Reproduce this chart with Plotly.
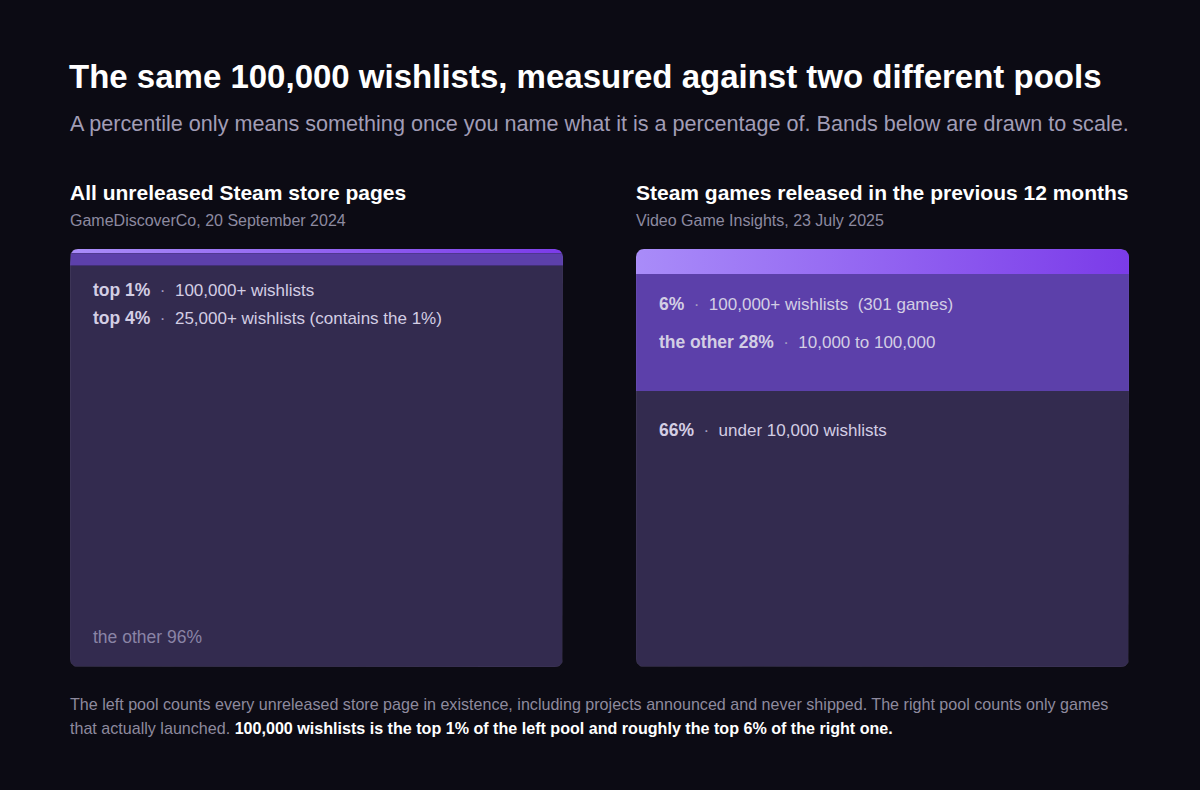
import numpy as np
import plotly.graph_objects as go

# pools and their bands (percent of the pool, top to bottom)
left_title = "All unreleased Steam store pages"
left_source = "GameDiscoverCo, 20 September 2024"
left_bands = [1, 3, 96]

right_title = "Steam games released in the previous 12 months"
right_source = "Video Game Insights, 23 July 2025"
right_bands = [6, 28, 66]

left_labels = [("top 1%", "100,000+ wishlists"),
               ("top 4%", "25,000+ wishlists (contains the 1%)")]
left_rest_label = "the other 96%"
right_labels = [("6%", "100,000+ wishlists\u00a0\u00a0(301 games)"),
                ("the other 28%", "10,000 to 100,000"),
                ("66%", "under 10,000 wishlists")]

W, H = 1200, 790
BG = "#0c0b14"
FONT = "Liberation Sans, Arial, Helvetica, sans-serif"
PANEL = "#332b4f"
MID = "#5c40aa"
GRAD = [[0, "#a98cf9"], [1, "#7b3be9"]]

panel_top, panel_bot = 249, 667
left_x = (70, 563)
right_x = (636, 1129)
radius = 8


def px(x):
    return x / W


def py(y):
    return 1 - y / H


def band_poly(y0, y1, total, rx, ry):
    # slice of the rounded panel outline between y0 and y1 (axis units)
    def inset(y):
        if y < ry:
            d = (ry - y) / ry
            return rx * (1 - np.sqrt(max(0.0, 1 - d * d)))
        if y > total - ry:
            d = (y - (total - ry)) / ry
            return rx * (1 - np.sqrt(max(0.0, 1 - d * d)))
        return 0.0

    samples = np.concatenate([np.linspace(0, ry, 16), np.linspace(total - ry, total, 16)])
    ys = [y0] + [s for s in samples if y0 < s < y1] + [y1]
    ys = sorted(set(ys))
    xs_left = [inset(y) for y in ys]
    xs = [1 - v for v in xs_left] + [v for v in reversed(xs_left)] + [1 - xs_left[0]]
    yy = ys + list(reversed(ys)) + [ys[0]]
    return xs, yy


fig = go.Figure()


def add_panel(bands, colours, xa, ya, xpix):
    total = sum(bands)
    rx = radius / (xpix[1] - xpix[0])
    ry = radius / (panel_bot - panel_top) * total
    edges = np.concatenate([[0], np.cumsum(bands)])
    for i, b in enumerate(bands):
        xs, ys = band_poly(edges[i], edges[i + 1], total, rx, ry)
        c = colours[i]
        kw = dict(fillcolor=c) if isinstance(c, str) else dict(fillgradient=dict(type="horizontal", colorscale=c))
        fig.add_trace(go.Scatter(x=xs, y=ys, mode="lines", fill="toself", line=dict(width=0),
                                 hoverinfo="skip", showlegend=False, xaxis=xa, yaxis=ya, **kw))
    xs, ys = band_poly(0, total, total, rx, ry)
    fig.add_trace(go.Scatter(x=xs, y=ys, mode="lines", line=dict(color="rgba(255,255,255,0.06)", width=1),
                             hoverinfo="skip", showlegend=False, xaxis=xa, yaxis=ya))


add_panel(left_bands, [GRAD, MID, PANEL], "x", "y", left_x)
add_panel(right_bands, [GRAD, MID, PANEL], "x2", "y2", right_x)

ydom = [py(panel_bot), py(panel_top)]
ax = dict(visible=False, fixedrange=True)
fig.update_layout(
    width=W, height=H, margin=dict(l=0, r=0, t=0, b=0),
    paper_bgcolor=BG, plot_bgcolor=BG,
    font=dict(family=FONT, color="#ffffff"),
    xaxis=dict(domain=[px(left_x[0]), px(left_x[1])], range=[0, 1], **ax),
    yaxis=dict(domain=ydom, range=[sum(left_bands), 0], **ax),
    xaxis2=dict(domain=[px(right_x[0]), px(right_x[1])], range=[0, 1], **ax),
    yaxis2=dict(domain=ydom, range=[sum(right_bands), 0], **ax),
    showlegend=False,
)


def note(x, y, text, size, color, bold=False):
    if bold:
        text = "<b>" + text + "</b>"
    fig.add_annotation(x=px(x), y=py(y), xref="paper", yref="paper", xanchor="left", yanchor="middle",
                       text=text, showarrow=False, font=dict(size=size, color=color, family=FONT))


note(67, 77, "The same 100,000 wishlists, measured against two different pools", 33, "#ffffff", True)
note(68, 124, "A percentile only means something once you name what it is a percentage of. "
              "Bands below are drawn to scale.", 21.6, "#a19db6")

note(68, 193, left_title, 21, "#ffffff", True)
note(68, 221, left_source, 16, "#8d8aa0")
note(634, 193, right_title, 21, "#ffffff", True)
note(634, 221, right_source, 16, "#8d8aa0")

DOT = "\u00a0\u00a0<span style='color:#a49ec0'>·</span>\u00a0\u00a0"


def band_label(x, y, pair):
    bold, rest = pair
    note(x, y, "<span style='font-size:17.5px'><b>" + bold + "</b></span>" + DOT + rest, 17, "#d3cee4")


band_label(91, 290, left_labels[0])
band_label(91, 318, left_labels[1])
note(91, 637, left_rest_label, 17.5, "#8a84a6")
band_label(657, 304, right_labels[0])
band_label(657, 342, right_labels[1])
band_label(657, 430, right_labels[2])

note(68, 704, "The left pool counts every unreleased store page in existence, including projects announced "
              "and never shipped. The right pool counts only games", 16.1, "#8e8a9e")
note(68, 728, "that actually launched. <span style='color:#ffffff'><b>100,000 wishlists is the top 1% of the "
              "left pool and roughly the top 6% of the right one.</b></span>", 16.1, "#8e8a9e")

fig.write_html("out.html", config={"displayModeBar": False},
               post_script="document.body.style.margin='0';"
                           "document.body.style.background='" + BG + "';")
